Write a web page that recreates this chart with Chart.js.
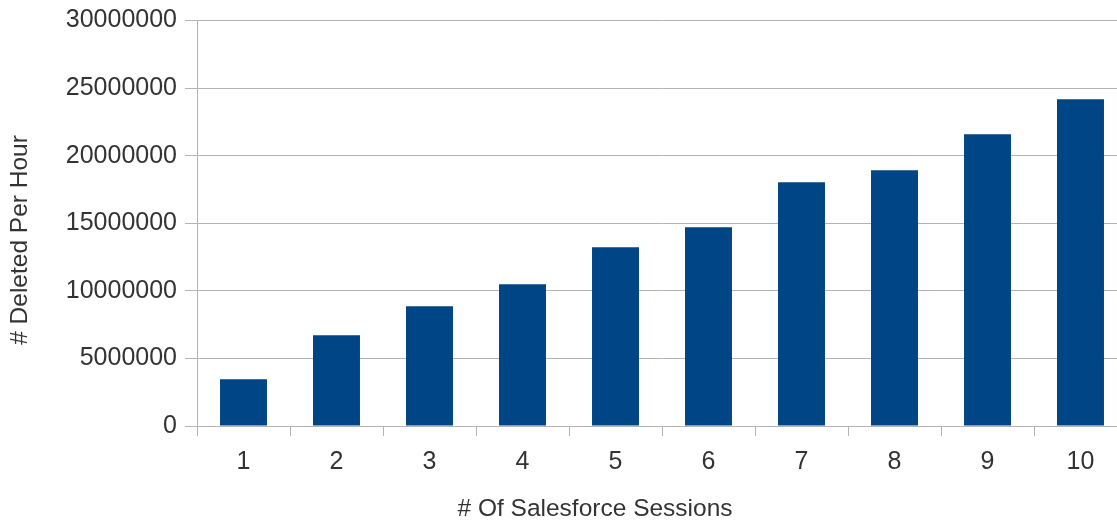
<!DOCTYPE html>
<html>
<head>
<meta charset="utf-8">
<script src="https://cdn.jsdelivr.net/npm/chart.js@4/dist/chart.umd.min.js"></script>
<style>
  html, body { margin: 0; padding: 0; background: #ffffff; overflow: hidden; }
  #wrap { position: relative; width: 1127px; height: 523px; }
</style>
</head>
<body>
<div id="wrap"><canvas id="chart"></canvas></div>
<script>
// Sessions and deletion throughput
const sessions = ['1', '2', '3', '4', '5', '6', '7', '8', '9', '10'];
const deletedPerHour = [3460000, 6710000, 8860000, 10490000, 13220000, 14700000, 18030000, 18920000, 21590000, 24180000];
const yTicks = [0, 5000000, 10000000, 15000000, 20000000, 25000000, 30000000];

const xTitle = '# Of Salesforce Sessions';
const yTitle = '# Deleted Per Hour';

const textColor = '#333333';
const gridColor = '#b3b3b3';
const fontFamily = '"Liberation Sans", Arial, sans-serif';

// Axis titles drawn freely so they sit where the layout wants them
const axisTitles = {
  id: 'axisTitles',
  afterDraw(chart) {
    const ctx = chart.ctx;
    ctx.save();
    ctx.fillStyle = textColor;
    ctx.font = '24.5px ' + fontFamily;
    ctx.textAlign = 'center';
    ctx.textBaseline = 'middle';
    ctx.fillText(xTitle, 595, 509);
    ctx.translate(20, 240);
    ctx.rotate(-Math.PI / 2);
    ctx.fillText(yTitle, 0, 0);
    ctx.restore();
  }
};

new Chart(document.getElementById('chart'), {
  type: 'bar',
  data: {
    labels: sessions,
    datasets: [{
      data: deletedPerHour,
      backgroundColor: '#004586',
      borderWidth: 0,
      barPercentage: 0.505,
      categoryPercentage: 1.0
    }]
  },
  options: {
    responsive: true,
    maintainAspectRatio: false,
    animation: false,
    layout: { padding: { top: 20, right: 0, bottom: 0, left: 0 } },
    plugins: {
      legend: { display: false },
      tooltip: { enabled: false }
    },
    scales: {
      x: {
        offset: true,
        grid: {
          offset: true,
          drawOnChartArea: false,
          drawTicks: true,
          tickLength: 10,
          color: gridColor,
          lineWidth: 1
        },
        border: { display: true, color: gridColor, width: 1 },
        ticks: {
          color: textColor,
          font: { family: fontFamily, size: 25 },
          padding: 11,
          maxRotation: 0
        },
        afterFit(scale) { scale.height = 97; }
      },
      y: {
        min: 0,
        max: 30000000,
        afterBuildTicks(scale) { scale.ticks = yTicks.map(v => ({ value: v })); },
        grid: {
          color: gridColor,
          lineWidth: 1,
          drawTicks: true,
          tickLength: 12
        },
        border: { display: true, color: gridColor, width: 1 },
        ticks: {
          color: textColor,
          font: { family: fontFamily, size: 25, lineHeight: 1.0 },
          padding: 8,
          callback: v => String(v)
        },
        afterFit(scale) { scale.width = 197; }
      }
    }
  },
  plugins: [axisTitles]
});
</script>
</body>
</html>
